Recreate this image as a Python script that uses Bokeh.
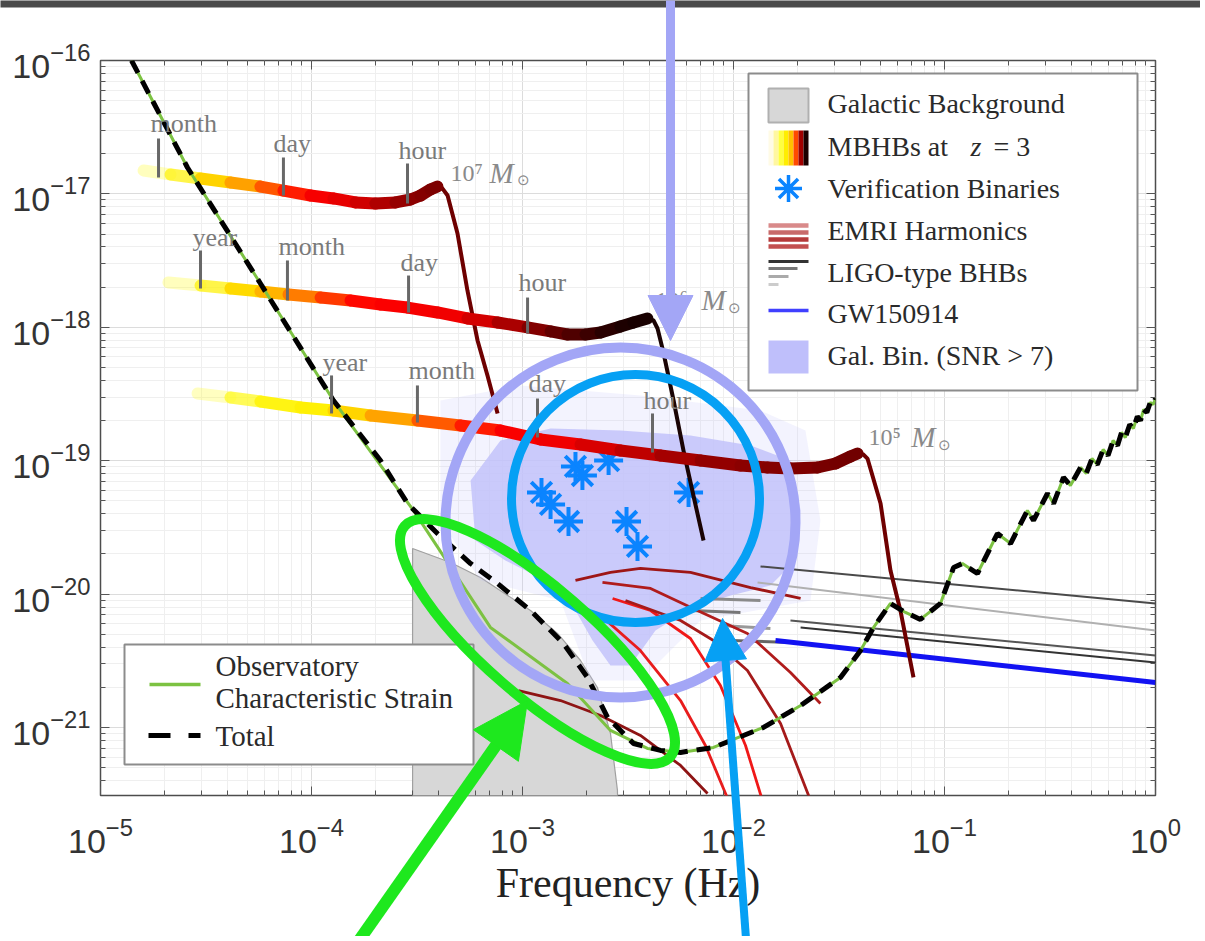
import math
from bokeh.plotting import figure
from bokeh.models import Range1d, FixedTicker, LogAxis, CustomJSTickFormatter
from bokeh.core.properties import value
from bokeh.embed import file_html
from bokeh.resources import INLINE

# ---------------- data: log10(frequency / Hz) and log10(characteristic strain) ----------------
sens_logf = [-4.853, -4.588, -4.242, -3.896, -3.517, -3.152, -2.787, -2.583, -2.408,
             -2.251, -2.095, -1.858, -1.682, -1.493, -1.398, -1.336, -1.256, -1.185,
             -1.114, -1.019, -0.957, -0.915, -0.844, -0.749, -0.687, -0.607, -0.578,
             -0.512, -0.483, -0.436, -0.403, -0.355, -0.328, -0.301, -0.276, -0.248,
             -0.225, -0.201, -0.180, -0.161, -0.143, -0.122, -0.105, -0.086, -0.071,
             -0.056, -0.041, -0.025, -0.011, 0.0]
sens_logh = [-16.0, -16.802, -17.672, -18.549, -19.373, -20.250, -20.670, -21.022, -21.157,
             -21.187, -21.150, -21.0, -20.835, -20.625, -20.423, -20.250, -20.070, -20.138,
             -20.190, -20.070, -19.801, -19.771, -19.846, -19.546, -19.621, -19.373, -19.448,
             -19.246, -19.321, -19.126, -19.186, -19.051, -19.096, -18.984, -19.029, -18.916,
             -18.961, -18.849, -18.886, -18.789, -18.826, -18.729, -18.759, -18.669, -18.699,
             -18.616, -18.639, -18.564, -18.579, -18.534]
# total (with galactic confusion) where it departs from the instrument curve
total_mid_logf = [-3.673, -3.545, -3.403, -3.246, -3.118, -2.962, -2.806, -2.692, -2.597, -2.474, -2.346]
total_mid_logh = [-18.999, -19.321, -19.546, -19.771, -19.921, -20.123, -20.370, -20.625, -20.925, -21.120, -21.172]

galbg_logf = [-3.521, -3.521, -3.341, -3.199, -2.962, -2.834, -2.725, -2.645, -2.583, -2.550, -2.545]
galbg_logh = [-22.0, -19.658, -19.763, -19.876, -20.123, -20.295, -20.498, -20.700, -21.045, -21.472, -22.0]

mbhb7_logf = [-4.796, -4.668, -4.526, -4.384, -4.242, -4.133, -4.005, -3.896, -3.791, -3.697, -3.602, -3.531, -3.483, -3.436, -3.403]
mbhb7_logh = [-16.825, -16.855, -16.885, -16.915, -16.945, -16.975, -17.012, -17.034, -17.064, -17.072, -17.064, -17.042, -17.012, -16.967, -16.945]
mbhb7_rd_logf = [-3.403, -3.379, -3.355, -3.308, -3.261, -3.213, -3.166, -3.118]
mbhb7_rd_logh = [-16.945, -16.960, -17.012, -17.297, -17.724, -18.099, -18.361, -18.646]

mbhb6_logf = [-4.678, -4.526, -4.384, -4.242, -4.109, -3.957, -3.815, -3.673, -3.545, -3.403, -3.261, -3.118, -2.976, -2.867, -2.787, -2.701, -2.630, -2.536, -2.474, -2.408]
mbhb6_logh = [-17.664, -17.687, -17.709, -17.732, -17.754, -17.777, -17.799, -17.829, -17.852, -17.889, -17.934, -17.964, -18.001, -18.031, -18.054, -18.054, -18.039, -17.994, -17.964, -17.934]
mbhb6_rd_logf = [-2.408, -2.379, -2.360, -2.332, -2.284, -2.237, -2.190, -2.142]
mbhb6_rd_logh = [-17.934, -17.949, -18.009, -18.189, -18.549, -18.924, -19.261, -19.598]

mbhb5_logf = [-4.540, -4.384, -4.242, -4.052, -3.896, -3.720, -3.498, -3.294, -3.104, -2.915, -2.725, -2.536, -2.346, -2.156, -1.967, -1.839, -1.730, -1.602, -1.517, -1.446, -1.412]
mbhb5_logh = [-18.496, -18.526, -18.556, -18.601, -18.624, -18.661, -18.699, -18.736, -18.774, -18.841, -18.879, -18.924, -18.961, -18.999, -19.036, -19.051, -19.059, -19.051, -19.021, -18.969, -18.946]
mbhb5_rd_logf = [-1.412, -1.384, -1.365, -1.303, -1.256, -1.209, -1.147]
mbhb5_rd_logh = [-18.946, -18.954, -18.984, -19.321, -19.823, -20.123, -20.625]

tick_text = ["month", "day", "hour", "year", "month", "day", "hour", "year", "month", "day", "hour"]
tick_logf = [-4.725, -4.133, -3.545, -4.526, -4.114, -3.540, -2.976, -3.905, -3.498, -2.929, -2.384]
tick_top_logh = [-16.585, -16.727, -16.772, -17.424, -17.499, -17.612, -17.777, -18.361, -18.436, -18.534, -18.646]
tick_bot_logh = [-16.877, -17.012, -17.072, -17.709, -17.799, -17.889, -18.046, -18.646, -18.714, -18.826, -18.939]
tick_label_logf = [-4.763, -4.180, -3.588, -4.564, -4.156, -3.578, -3.019, -3.948, -3.540, -2.972, -2.427]
tick_label_logh = [-16.472, -16.622, -16.675, -17.327, -17.394, -17.514, -17.664, -18.264, -18.324, -18.421, -18.549]

mass_text = ["10\u2077", "10\u2076", "10\u2075"]
mass_logf = [-3.341, -2.370, -1.360]
mass_logh = [-16.840, -17.799, -18.826]
mass_M_logf = [-3.156, -2.152, -1.157]
mass_sun_logf = [-3.026, -2.024, -1.030]
mass_sun_logh = [-16.890, -17.849, -18.876]

vb_logf = [-2.749, -2.716, -2.592, -2.910, -2.867, -2.782, -2.507, -2.455, -2.213]
vb_logh = [-19.043, -19.111, -18.999, -19.238, -19.328, -19.456, -19.456, -19.643, -19.238]

galbin_dense_logf = [-3.246, -3.104, -2.867, -2.536, -2.204, -1.919, -1.730, -1.682, -1.706, -1.825,
                     -2.014, -2.204, -2.370, -2.488, -2.583, -2.668, -2.749, -2.891, -3.081, -3.223]
galbin_dense_logh = [-19.148, -18.849, -18.759, -18.774, -18.811, -18.886, -18.999, -19.373, -19.748, -19.936,
                     -20.010, -20.108, -20.273, -20.535, -20.535, -20.348, -20.123, -19.898, -19.748, -19.598]
galbin_sparse_logf = [-3.389, -3.009, -2.441, -1.872, -1.659, -1.588, -1.635, -2.156, -2.441, -2.678, -2.820, -3.199, -3.389]
galbin_sparse_logh = [-18.549, -18.436, -18.511, -18.624, -18.774, -19.448, -20.048, -20.198, -20.648, -20.648, -20.048, -19.898, -19.448]

emri_logf = [[-2.749, -2.583, -2.441, -2.204, -1.919, -1.682],
             [-2.621, -2.393, -2.171, -1.934, -1.730, -1.588],
             [-2.573, -2.393, -2.204, -2.062, -1.943, -1.863],
             [-2.512, -2.251, -2.095, -1.934, -1.777, -1.635],
             [-2.630, -2.441, -2.251, -2.133, -2.024],
             [-3.019, -2.820, -2.630, -2.441, -2.251, -2.123]]
emri_logh = [[-19.898, -19.838, -19.808, -19.838, -19.951, -20.033],
             [-19.913, -19.958, -20.123, -20.295, -20.588, -20.820],
             [-20.033, -20.123, -20.333, -20.685, -21.135, -21.547],
             [-20.048, -20.198, -20.348, -20.573, -20.970, -21.547],
             [-20.160, -20.423, -20.798, -21.135, -21.547],
             [-20.723, -20.798, -20.910, -21.060, -21.285, -21.495]]
emri_colors = ["#9e1616", "#b01c1c", "#f01818", "#a51a1a", "#e81c1c", "#8e1414"]

ligo_logf = [[-1.872, 0.0], [-1.886, 0.0], [-1.730, 0.0], [-1.682, 0.0],
             [-2.156, -1.872], [-2.204, -1.967], [-2.062, -1.825], [-2.014, -1.730]]
ligo_logh = [[-19.793, -20.070], [-19.913, -20.273], [-20.198, -20.460], [-20.250, -20.513],
             [-20.033, -20.048], [-20.123, -20.138], [-20.235, -20.258], [-20.348, -20.363]]
ligo_colors = ["#4a4a4a", "#b0b0b0", "#555555", "#333333", "#8a8a8a", "#777777", "#999999", "#666666"]
ligo_widths = [2, 2, 2, 2, 3, 3, 3, 3]

gw150914_logf = [-1.801, 0.0]
gw150914_logh = [-20.348, -20.663]

legend_top_labels = ["Galactic Background", "MBHBs at", "Verification Binaries", "EMRI Harmonics",
                     "LIGO-type BHBs", "GW150914", "Gal. Bin. (SNR > 7)"]
legend_bottom_labels = ["Observatory", "Characteristic Strain", "Total"]
x_label = "Frequency (Hz)"

# ---------------- helpers ----------------
def tenpow(a):
    return [10.0 ** v for v in a]

X_LOG = (-5.0, 0.0)
Y_LOG = (-21.51, -16.0)
FRAME_W, FRAME_H = 1055, 735
FX0, FY0 = 100, 60  # frame origin in the page


def fx(px):  # page column -> data x (decorations only)
    return 10 ** (X_LOG[0] + (px - FX0) / FRAME_W * (X_LOG[1] - X_LOG[0]))


def fy(py):  # page row -> data y (decorations only)
    return 10 ** (Y_LOG[1] - (py - FY0) / FRAME_H * (Y_LOG[1] - Y_LOG[0]))


def hex2rgb(h):
    return tuple(int(h[i:i + 2], 16) for i in (1, 3, 5))


def grad(stops, t):
    for (t0, c0), (t1, c1) in zip(stops, stops[1:]):
        if t <= t1:
            u = 0.0 if t1 == t0 else max(0.0, (t - t0) / (t1 - t0))
            a, b = hex2rgb(c0), hex2rgb(c1)
            return "#%02x%02x%02x" % tuple(int(round(a[i] + (b[i] - a[i]) * u)) for i in range(3))
    return stops[-1][1]


SERIF = value("Liberation Serif")

p = figure(x_axis_type="log", y_axis_type="log",
           x_range=Range1d(10 ** X_LOG[0], 10 ** X_LOG[1]),
           y_range=Range1d(10 ** Y_LOG[0], 10 ** Y_LOG[1]),
           frame_width=FRAME_W, frame_height=FRAME_H,
           min_border_left=FX0, min_border_right=45, min_border_top=FY0, min_border_bottom=141,
           output_backend="svg", toolbar_location=None,
           background_fill_color="white", border_fill_color="white")

bottom_ax = p.below[0]
left_ax = p.left[0]

x_major = [10.0 ** k for k in range(-5, 1)]
x_minor = [m * 10.0 ** k for k in range(-5, 0) for m in range(2, 10)]
y_major = [10.0 ** k for k in range(-21, -15)]
y_minor = [m * 10.0 ** k for k in range(-22, -16) for m in range(2, 10)]
xt = FixedTicker(ticks=x_major, minor_ticks=x_minor)
yt = FixedTicker(ticks=y_major, minor_ticks=y_minor)
bottom_ax.ticker = xt
left_ax.ticker = yt
p.xgrid.ticker = xt
p.ygrid.ticker = yt
for g in (p.xgrid, p.ygrid):
    g.grid_line_color = "#dcdcdc"
    g.minor_grid_line_color = "#efefef"

top_ax = LogAxis(ticker=xt, formatter=CustomJSTickFormatter(code="return ''"))
right_ax = LogAxis(ticker=yt, formatter=CustomJSTickFormatter(code="return ''"))
p.add_layout(top_ax, "above")
p.add_layout(right_ax, "right")
for ax in (bottom_ax, left_ax, top_ax, right_ax):
    ax.axis_line_color = None
    ax.major_tick_in = 9
    ax.major_tick_out = 0
    ax.minor_tick_in = 5
    ax.minor_tick_out = 0
    ax.major_tick_line_color = "#555555"
    ax.minor_tick_line_color = "#555555"
    ax.major_label_text_font = "Liberation Sans"
    ax.major_label_text_font_size = "34px"
    ax.major_label_text_color = "#333333"
top_ax.major_label_standoff = 0
right_ax.major_label_standoff = 0
bottom_ax.major_label_standoff = 22
left_ax.major_label_standoff = 10
bottom_ax.axis_label = x_label
bottom_ax.axis_label_text_font = "Liberation Serif"
bottom_ax.axis_label_text_font_size = "42px"
bottom_ax.axis_label_text_font_style = "normal"
bottom_ax.axis_label_text_color = "#222222"
bottom_ax.axis_label_standoff = 4
p.outline_line_color = "#4d4d4d"
p.outline_line_width = 1.5

# ---------------- data layers ----------------
p.patch(tenpow(galbg_logf), tenpow(galbg_logh), fill_color="#d7d7d7", line_color="#a0a0a0", line_width=1.2)
p.patch(tenpow(galbin_sparse_logf), tenpow(galbin_sparse_logh), fill_color="#c4c4fa", fill_alpha=0.2, line_color=None)
p.patch(tenpow(galbin_dense_logf), tenpow(galbin_dense_logh), fill_color="#c2c2fa", fill_alpha=0.85, line_color=None)

p.multi_line([tenpow(a) for a in ligo_logf], [tenpow(a) for a in ligo_logh],
             line_color=ligo_colors, line_width=ligo_widths)
p.multi_line([tenpow(a) for a in emri_logf], [tenpow(a) for a in emri_logh],
             line_color=emri_colors, line_width=2.8, line_join="round")
p.line(tenpow(gw150914_logf), tenpow(gw150914_logh), line_color="#1212f2", line_width=5)

p.scatter(tenpow(vb_logf), tenpow(vb_logh), marker="asterisk", size=29,
          line_color="#0a84ff", line_width=4)

track_defs = [
    (mbhb7_logf, mbhb7_logh, mbhb7_rd_logf, mbhb7_rd_logh, "#6e0000",
     [(0, "#ffff33"), (0.19, "#ffee00"), (0.36, "#ff9a00"), (0.47, "#ff3a00"), (0.57, "#ff0000"),
      (0.72, "#e00000"), (0.87, "#990000"), (1.0, "#7a0000")]),
    (mbhb6_logf, mbhb6_logh, mbhb6_rd_logf, mbhb6_rd_logh, "#1a0404",
     [(0, "#ffff33"), (0.13, "#ffee00"), (0.25, "#ffa000"), (0.34, "#ff4000"), (0.42, "#ff0000"),
      (0.61, "#f00000"), (0.71, "#b00000"), (0.82, "#600000"), (0.94, "#200000"), (1.0, "#150000")]),
    (mbhb5_logf, mbhb5_logh, mbhb5_rd_logf, mbhb5_rd_logh, "#6e0000",
     [(0, "#ffff33"), (0.2, "#ffee00"), (0.31, "#ff9900"), (0.4, "#ff3300"), (0.46, "#ff0000"),
      (0.55, "#f00000"), (0.64, "#cc0000"), (0.76, "#990000"), (1.0, "#700000")]),
]
for lf, lh, rlf, rlh, rcol, stops in track_defs:
    p.line(tenpow(rlf), tenpow(rlh), line_color=rcol, line_width=4, line_join="round")
    n = len(lf)
    ts = [((lf[i] + lf[i + 1]) / 2 - lf[0]) / (lf[-1] - lf[0]) for i in range(n - 1)]
    cols = [grad(stops, t) for t in ts]
    alph = [0.3, 0.75] + [1.0] * (n - 3)
    p.segment(tenpow(lf[:-1]), tenpow(lh[:-1]), tenpow(lf[1:]), tenpow(lh[1:]),
              line_color=cols, line_alpha=alph, line_width=12, line_cap="round")

# sensitivity curves
total_logf = sens_logf[:4] + total_mid_logf + sens_logf[9:]
total_logh = sens_logh[:4] + total_mid_logh + sens_logh[9:]
p.line(tenpow(sens_logf), tenpow(sens_logh), line_color="#7cc242", line_width=3)
p.line(tenpow(total_logf), tenpow(total_logh), line_color="black", line_width=5, line_dash="14 9")

# time-to-merger markers
p.segment(tenpow(tick_logf), tenpow(tick_bot_logh), tenpow(tick_logf), tenpow(tick_top_logh),
          line_color="#686868", line_width=3)
p.text(tenpow(tick_label_logf), tenpow(tick_label_logh), text=tick_text, text_font=SERIF,
       text_font_size="26px", text_color="#7a7a7a", text_baseline="middle", text_align="left")
p.text(tenpow(mass_logf), tenpow(mass_logh), text=mass_text, text_font=SERIF,
       text_font_size="24px", text_color="#8a8a8a", text_baseline="middle", text_align="left")
p.text(tenpow(mass_M_logf), tenpow(mass_logh), text=["M"] * 3, text_font=SERIF,
       text_font_size="29px", text_font_style="italic", text_color="#8a8a8a",
       text_baseline="middle", text_align="left")
p.text(tenpow(mass_sun_logf), tenpow(mass_sun_logh), text=["\u2299"] * 3,
       text_font_size="15px", text_color="#8a8a8a", text_baseline="middle", text_align="left")

# ---------------- legend (top right) ----------------
p.quad(left=[fx(748)], right=[fx(1137)], top=[fy(73)], bottom=[fy(390)],
       fill_color="white", line_color="#8c8c8c", line_width=2)
rows = [103, 146, 188, 230, 272, 313, 355]
p.quad(left=[fx(768)], right=[fx(808)], top=[fy(88)], bottom=[fy(122)],
       fill_color="#d7d7d7", line_color="#b0b0b0", line_width=2)
sw_cols = ["#fffbe6", "#fff7a0", "#ffff40", "#ffee00", "#ffc000", "#ff4a00", "#a00000", "#1a0000"]
p.quad(left=[fx(768 + 5 * i) for i in range(8)], right=[fx(773 + 5 * i) for i in range(8)],
       top=[fy(130)] * 8, bottom=[fy(165)] * 8, fill_color=sw_cols, line_color=None)
p.scatter([fx(788)], [fy(188)], marker="asterisk", size=27, line_color="#0a84ff", line_width=3.5)
p.multi_line([[fx(768), fx(808)]] * 4, [[fy(yy), fy(yy)] for yy in (225, 232, 239, 246)],
             line_color=["#d98a8a", "#c86a6a", "#b53a3a", "#c25050"], line_width=4.5)
p.multi_line([[fx(768), fx(e)] for e in (808, 797, 788, 778)],
             [[fy(yy), fy(yy)] for yy in (261, 268, 276, 284)],
             line_color=["#333333", "#777777", "#aaaaaa", "#cccccc"], line_width=3)
p.line([fx(768), fx(808)], [fy(310), fy(310)], line_color="#4040ff", line_width=3.5)
p.quad(left=[fx(768)], right=[fx(808)], top=[fy(340)], bottom=[fy(373)],
       fill_color="#bfbffb", line_color=None)
p.text([fx(827)] * 7, [fy(r) for r in rows], text=legend_top_labels, text_font=SERIF,
       text_font_size="28px", text_color="#2a2a2a", text_baseline="middle", text_align="left")
p.text([fx(970)], [fy(146)], text=["z"], text_font=SERIF, text_font_style="italic",
       text_font_size="28px", text_color="#2a2a2a", text_baseline="middle", text_align="left")
p.text([fx(993)], [fy(146)], text=["=  3"], text_font=SERIF,
       text_font_size="28px", text_color="#2a2a2a", text_baseline="middle", text_align="left")

# ---------------- legend (bottom left) ----------------
p.quad(left=[fx(124)], right=[fx(473)], top=[fy(644)], bottom=[fy(764)],
       fill_color="white", line_color="#8c8c8c", line_width=2)
p.line([fx(149), fx(200)], [fy(684), fy(684)], line_color="#7cc242", line_width=3.5)
p.line([fx(148), fx(200)], [fy(735), fy(735)], line_color="black", line_width=5, line_dash="22 18")
p.text([fx(215)] * 3, [fy(665), fy(697), fy(735)], text=legend_bottom_labels, text_font=SERIF,
       text_font_size="29px", text_color="#2a2a2a", text_baseline="middle", text_align="left")

# ---------------- highlight annotations ----------------
LAV, BLUE, GREEN = "#a3a6f6", "#06a0f4", "#1ee81e"
p.ellipse([fx(620)], [fy(522)], width=350, height=350, width_units="screen", height_units="screen",
          fill_color=None, line_color=LAV, line_width=10)
p.ellipse([fx(635)], [fy(498)], width=248, height=248, width_units="screen", height_units="screen",
          fill_color=None, line_color=BLUE, line_width=9)
p.ellipse([fx(537)], [fy(641)], width=352, height=108, angle=-0.715,
          width_units="screen", height_units="screen",
          fill_color=None, line_color=GREEN, line_width=10)

# dark strip across the very top of the slide
bar = p.quad(left=[fx(0)], right=[fx(1205)], top=[fy(0)], bottom=[fy(7)],
             fill_color="#4a4a4a", line_color=None)
bar.level = "overlay"


def arrow(xs, ys, xe, ye, col, lw, hs):
    L = math.hypot(xe - xs, ye - ys)
    ux, uy = (xe - xs) / L, (ye - ys) / L
    bx, by = xe - ux * hs, ye - uy * hs
    nx, ny = -uy, ux
    r1 = p.segment([fx(xs)], [fy(ys)], [fx(bx + ux * 3)], [fy(by + uy * 3)],
                   line_color=col, line_width=lw)
    r1.level = "overlay"
    tx = [xe, bx + nx * hs / 2, bx - nx * hs / 2]
    ty = [ye, by + ny * hs / 2, by - ny * hs / 2]
    r2 = p.patch([fx(v) for v in tx], [fy(v) for v in ty], fill_color=col, line_color=col, line_width=1)
    r2.level = "overlay"


arrow(670, 0, 670, 340, LAV, 9, 45)
arrow(355, 945, 527, 700, GREEN, 12, 55)
arrow(746, 945, 722, 618, BLUE, 8, 42)

open("out.html", "w").write(file_html(p, INLINE))
